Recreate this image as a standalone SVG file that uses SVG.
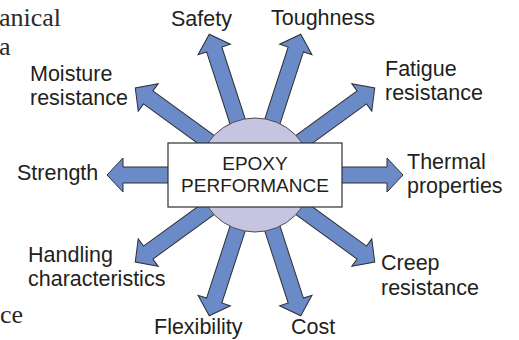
<svg xmlns="http://www.w3.org/2000/svg" width="519" height="340" viewBox="0 0 519 340">
<style>
.arr{fill:#6a8bc7;stroke:#2f2f33;stroke-width:1;stroke-linejoin:miter}
.lbl{font-family:"Liberation Sans",Arial,sans-serif;font-size:21.5px;fill:#231f20}
.ctr{font-family:"Liberation Sans",Arial,sans-serif;font-size:19px;fill:#231f20;text-anchor:middle}
.bg{font-family:"Liberation Serif","Times New Roman",serif;font-size:26px;fill:#2a2a2a}
</style>
<defs>
<polygon id="arrow" class="arr" points="0,-8 132,-8 132,-17 148,0 132,17 132,8 0,8"/>
</defs>
<g id="page-fragments">
<text class="bg" x="-1" y="26">anical</text>
<text class="bg" x="-1" y="55">a</text>
<text class="bg" x="0" y="323">ce</text>
</g>
<g id="connectors" transform="translate(255,175)">
<use href="#arrow" transform="rotate(0)"/>
<use href="#arrow" transform="rotate(36)"/>
<use href="#arrow" transform="rotate(72)"/>
<use href="#arrow" transform="rotate(108)"/>
<use href="#arrow" transform="rotate(144)"/>
<use href="#arrow" transform="rotate(180)"/>
<use href="#arrow" transform="rotate(216)"/>
<use href="#arrow" transform="rotate(252)"/>
<use href="#arrow" transform="rotate(288)"/>
<use href="#arrow" transform="rotate(324)"/>
</g>
<g id="epoxy-performance">
<circle cx="255" cy="175" r="57" fill="#c6c4e1" stroke="#4a4a50" stroke-width="1"/>
<rect x="168" y="143" width="174" height="64" fill="#ffffff" stroke="#2f2f33" stroke-width="1.2"/>
<text class="ctr" x="255" y="170">EPOXY</text>
<text class="ctr" x="255" y="192">PERFORMANCE</text>
</g>
<g id="safety"><text class="lbl" x="171" y="26">Safety</text></g>
<g id="toughness"><text class="lbl" x="271" y="25">Toughness</text></g>
<g id="fatigue-resistance"><text class="lbl" x="385" y="76">Fatigue</text><text class="lbl" x="385" y="100">resistance</text></g>
<g id="moisture-resistance"><text class="lbl" x="30" y="81">Moisture</text><text class="lbl" x="30" y="105">resistance</text></g>
<g id="strength"><text class="lbl" x="17" y="180">Strength</text></g>
<g id="thermal-properties"><text class="lbl" x="407" y="169">Thermal</text><text class="lbl" x="407" y="193">properties</text></g>
<g id="handling-characteristics"><text class="lbl" x="28" y="262">Handling</text><text class="lbl" x="28" y="286">characteristics</text></g>
<g id="flexibility"><text class="lbl" x="154" y="334">Flexibility</text></g>
<g id="cost"><text class="lbl" x="291" y="334">Cost</text></g>
<g id="creep-resistance"><text class="lbl" x="381" y="270">Creep</text><text class="lbl" x="381" y="295">resistance</text></g>
</svg>
